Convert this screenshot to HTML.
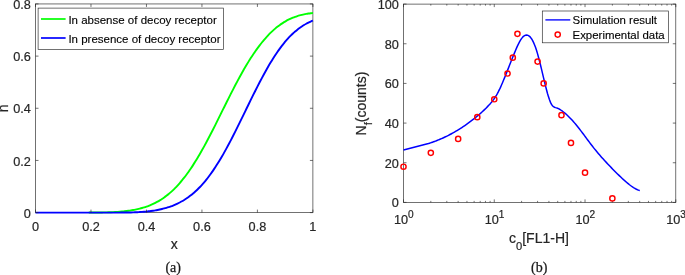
<!DOCTYPE html>
<html lang="en"><head><meta charset="utf-8"><title>Figure</title>
<style>html,body{margin:0;padding:0;background:#fff}body{width:685px;height:275px;overflow:hidden}svg{display:block}text{font-family:"Liberation Sans", sans-serif;fill:#262626;stroke:#262626;stroke-width:0.2px}.t{font-size:12.7px}.l{font-size:14.0px}.lg{font-size:11.3px;fill:#000;stroke:#000;stroke-width:0.12px}.cap{font-family:"Liberation Serif", serif;font-size:14px;fill:#1a1a1a;stroke:#1a1a1a;stroke-width:0.25px}</style></head><body>
<svg width="685" height="275" viewBox="0 0 685 275">
<rect width="685" height="275" fill="#fff"/>
<g id="left">
<rect x="35.50" y="3.95" width="277.40" height="208.65" fill="none" stroke="#262626" stroke-width="0.65"/>
<text class="t" x="35.50" y="230.60" text-anchor="middle">0</text>
<text class="t" x="90.98" y="230.60" text-anchor="middle">0.2</text>
<text class="t" x="146.46" y="230.60" text-anchor="middle">0.4</text>
<text class="t" x="201.94" y="230.60" text-anchor="middle">0.6</text>
<text class="t" x="257.42" y="230.60" text-anchor="middle">0.8</text>
<text class="t" x="312.90" y="230.60" text-anchor="middle">1</text>
<text class="t" x="30.90" y="217.80" text-anchor="end">0</text>
<text class="t" x="30.90" y="165.64" text-anchor="end">0.2</text>
<text class="t" x="30.90" y="113.47" text-anchor="end">0.4</text>
<text class="t" x="30.90" y="61.31" text-anchor="end">0.6</text>
<text class="t" x="30.90" y="9.15" text-anchor="end">0.8</text>
<text class="l" x="174.20" y="248.60" text-anchor="middle">x</text>
<text class="l" transform="translate(7.6 108.27) rotate(-90)" text-anchor="middle">n</text>
<path d="M88.76 212.57 C89.13 212.57 90.24 212.57 90.98 212.56 C91.72 212.56 92.46 212.55 93.20 212.55 C93.94 212.54 94.68 212.54 95.42 212.53 C96.16 212.52 96.90 212.51 97.64 212.51 C98.38 212.50 99.12 212.49 99.86 212.48 C100.60 212.47 101.34 212.45 102.08 212.44 C102.82 212.43 103.56 212.41 104.30 212.40 C105.03 212.38 105.77 212.36 106.51 212.34 C107.25 212.32 107.99 212.30 108.73 212.27 C109.47 212.25 110.21 212.22 110.95 212.19 C111.69 212.16 112.43 212.13 113.17 212.09 C113.91 212.06 114.65 212.02 115.39 211.98 C116.13 211.93 116.87 211.89 117.61 211.84 C118.35 211.79 119.09 211.74 119.83 211.68 C120.57 211.62 121.31 211.56 122.05 211.49 C122.79 211.43 123.53 211.35 124.27 211.28 C125.01 211.20 125.75 211.12 126.49 211.03 C127.23 210.94 127.97 210.84 128.71 210.74 C129.45 210.64 130.19 210.53 130.93 210.41 C131.67 210.30 132.41 210.17 133.14 210.04 C133.88 209.91 134.62 209.77 135.36 209.62 C136.10 209.47 136.84 209.31 137.58 209.15 C138.32 208.98 139.06 208.80 139.80 208.62 C140.54 208.43 141.28 208.23 142.02 208.02 C142.76 207.81 143.50 207.59 144.24 207.36 C144.98 207.13 145.72 206.88 146.46 206.62 C147.20 206.37 147.94 206.10 148.68 205.81 C149.42 205.52 150.16 205.23 150.90 204.91 C151.64 204.60 152.38 204.27 153.12 203.92 C153.86 203.58 154.60 203.22 155.34 202.84 C156.08 202.46 156.82 202.07 157.56 201.66 C158.30 201.24 159.04 200.81 159.78 200.37 C160.51 199.92 161.25 199.45 161.99 198.96 C162.73 198.47 163.47 197.97 164.21 197.44 C164.95 196.91 165.69 196.36 166.43 195.80 C167.17 195.23 167.91 194.64 168.65 194.02 C169.39 193.41 170.13 192.77 170.87 192.12 C171.61 191.46 172.35 190.78 173.09 190.07 C173.83 189.37 174.57 188.64 175.31 187.89 C176.05 187.14 176.79 186.36 177.53 185.56 C178.27 184.76 179.01 183.94 179.75 183.09 C180.49 182.24 181.23 181.36 181.97 180.46 C182.71 179.56 183.45 178.64 184.19 177.69 C184.93 176.74 185.67 175.77 186.41 174.77 C187.15 173.77 187.89 172.74 188.62 171.70 C189.36 170.65 190.10 169.58 190.84 168.48 C191.58 167.38 192.32 166.26 193.06 165.12 C193.80 163.97 194.54 162.81 195.28 161.62 C196.02 160.43 196.76 159.22 197.50 157.98 C198.24 156.75 198.98 155.50 199.72 154.22 C200.46 152.95 201.20 151.65 201.94 150.34 C202.68 149.03 203.42 147.69 204.16 146.34 C204.90 145.00 205.64 143.63 206.38 142.25 C207.12 140.87 207.86 139.47 208.60 138.06 C209.34 136.65 210.08 135.23 210.82 133.79 C211.56 132.36 212.30 130.91 213.04 129.45 C213.78 128.00 214.52 126.53 215.26 125.06 C215.99 123.59 216.73 122.11 217.47 120.63 C218.21 119.15 218.95 117.66 219.69 116.17 C220.43 114.68 221.17 113.18 221.91 111.69 C222.65 110.20 223.39 108.70 224.13 107.21 C224.87 105.72 225.61 104.23 226.35 102.75 C227.09 101.27 227.83 99.78 228.57 98.31 C229.31 96.84 230.05 95.37 230.79 93.92 C231.53 92.46 232.27 91.01 233.01 89.58 C233.75 88.14 234.49 86.71 235.23 85.30 C235.97 83.89 236.71 82.49 237.45 81.10 C238.19 79.72 238.93 78.35 239.67 76.99 C240.41 75.64 241.15 74.30 241.89 72.98 C242.63 71.66 243.37 70.36 244.10 69.08 C244.84 67.80 245.58 66.54 246.32 65.29 C247.06 64.05 247.80 62.83 248.54 61.63 C249.28 60.43 250.02 59.25 250.76 58.10 C251.50 56.94 252.24 55.81 252.98 54.70 C253.72 53.59 254.46 52.50 255.20 51.44 C255.94 50.38 256.68 49.34 257.42 48.32 C258.16 47.31 258.90 46.32 259.64 45.35 C260.38 44.38 261.12 43.44 261.86 42.52 C262.60 41.61 263.34 40.71 264.08 39.85 C264.82 38.98 265.56 38.13 266.30 37.32 C267.04 36.50 267.78 35.70 268.52 34.93 C269.26 34.16 270.00 33.41 270.74 32.69 C271.47 31.97 272.21 31.27 272.95 30.60 C273.69 29.92 274.43 29.27 275.17 28.64 C275.91 28.02 276.65 27.41 277.39 26.83 C278.13 26.25 278.87 25.69 279.61 25.15 C280.35 24.61 281.09 24.10 281.83 23.60 C282.57 23.11 283.31 22.63 284.05 22.18 C284.79 21.73 285.53 21.30 286.27 20.88 C287.01 20.47 287.75 20.08 288.49 19.70 C289.23 19.33 289.97 18.98 290.71 18.64 C291.45 18.30 292.19 17.98 292.93 17.68 C293.67 17.38 294.41 17.10 295.15 16.83 C295.89 16.56 296.63 16.31 297.37 16.07 C298.11 15.84 298.85 15.62 299.58 15.41 C300.32 15.20 301.06 15.01 301.80 14.83 C302.54 14.65 303.28 14.48 304.02 14.33 C304.76 14.17 305.50 14.03 306.24 13.90 C306.98 13.77 307.72 13.65 308.46 13.54 C309.20 13.43 309.94 13.33 310.68 13.24 C311.42 13.14 312.53 13.03 312.90 12.99" fill="none" stroke="#00ff00" stroke-width="1.9" stroke-linejoin="round"/>
<path d="M35.50 212.60 C35.87 212.60 36.98 212.60 37.72 212.60 C38.46 212.60 39.20 212.60 39.94 212.60 C40.68 212.60 41.42 212.60 42.16 212.60 C42.90 212.60 43.64 212.60 44.38 212.60 C45.12 212.60 45.86 212.60 46.60 212.60 C47.34 212.60 48.08 212.60 48.82 212.60 C49.55 212.60 50.29 212.60 51.03 212.60 C51.77 212.60 52.51 212.60 53.25 212.60 C53.99 212.60 54.73 212.60 55.47 212.60 C56.21 212.60 56.95 212.60 57.69 212.60 C58.43 212.60 59.17 212.60 59.91 212.60 C60.65 212.60 61.39 212.60 62.13 212.60 C62.87 212.60 63.61 212.60 64.35 212.60 C65.09 212.60 65.83 212.60 66.57 212.60 C67.31 212.60 68.05 212.60 68.79 212.60 C69.53 212.60 70.27 212.60 71.01 212.60 C71.75 212.60 72.49 212.60 73.23 212.60 C73.97 212.60 74.71 212.60 75.45 212.60 C76.19 212.60 76.93 212.60 77.66 212.60 C78.40 212.60 79.14 212.60 79.88 212.60 C80.62 212.60 81.36 212.60 82.10 212.60 C82.84 212.60 83.58 212.60 84.32 212.60 C85.06 212.60 85.80 212.60 86.54 212.60 C87.28 212.60 88.02 212.60 88.76 212.60 C89.50 212.60 90.24 212.60 90.98 212.60 C91.72 212.60 92.46 212.60 93.20 212.60 C93.94 212.60 94.68 212.60 95.42 212.60 C96.16 212.60 96.90 212.60 97.64 212.60 C98.38 212.60 99.12 212.60 99.86 212.60 C100.60 212.60 101.34 212.60 102.08 212.60 C102.82 212.60 103.56 212.60 104.30 212.60 C105.03 212.60 105.77 212.60 106.51 212.60 C107.25 212.60 107.99 212.60 108.73 212.60 C109.47 212.60 110.21 212.60 110.95 212.60 C111.69 212.60 112.43 212.60 113.17 212.60 C113.91 212.59 114.65 212.59 115.39 212.59 C116.13 212.59 116.87 212.59 117.61 212.59 C118.35 212.58 119.09 212.58 119.83 212.58 C120.57 212.57 121.31 212.57 122.05 212.56 C122.79 212.56 123.53 212.55 124.27 212.55 C125.01 212.54 125.75 212.53 126.49 212.52 C127.23 212.51 127.97 212.50 128.71 212.48 C129.45 212.47 130.19 212.45 130.93 212.43 C131.67 212.41 132.41 212.39 133.14 212.37 C133.88 212.35 134.62 212.32 135.36 212.29 C136.10 212.26 136.84 212.23 137.58 212.19 C138.32 212.15 139.06 212.11 139.80 212.07 C140.54 212.03 141.28 211.98 142.02 211.92 C142.76 211.87 143.50 211.81 144.24 211.75 C144.98 211.69 145.72 211.62 146.46 211.55 C147.20 211.48 147.94 211.40 148.68 211.31 C149.42 211.23 150.16 211.14 150.90 211.04 C151.64 210.94 152.38 210.84 153.12 210.73 C153.86 210.62 154.60 210.50 155.34 210.37 C156.08 210.25 156.82 210.11 157.56 209.97 C158.30 209.83 159.04 209.68 159.78 209.52 C160.51 209.36 161.25 209.19 161.99 209.02 C162.73 208.84 163.47 208.65 164.21 208.45 C164.95 208.26 165.69 208.05 166.43 207.83 C167.17 207.61 167.91 207.38 168.65 207.14 C169.39 206.90 170.13 206.64 170.87 206.37 C171.61 206.11 172.35 205.83 173.09 205.53 C173.83 205.24 174.57 204.93 175.31 204.61 C176.05 204.29 176.79 203.95 177.53 203.60 C178.27 203.24 179.01 202.87 179.75 202.49 C180.49 202.10 181.23 201.70 181.97 201.28 C182.71 200.86 183.45 200.42 184.19 199.96 C184.93 199.51 185.67 199.03 186.41 198.54 C187.15 198.04 187.89 197.52 188.62 196.99 C189.36 196.45 190.10 195.89 190.84 195.31 C191.58 194.73 192.32 194.13 193.06 193.51 C193.80 192.88 194.54 192.24 195.28 191.56 C196.02 190.89 196.76 190.20 197.50 189.48 C198.24 188.76 198.98 188.02 199.72 187.25 C200.46 186.48 201.20 185.69 201.94 184.87 C202.68 184.05 203.42 183.20 204.16 182.33 C204.90 181.46 205.64 180.56 206.38 179.64 C207.12 178.72 207.86 177.77 208.60 176.79 C209.34 175.82 210.08 174.82 210.82 173.79 C211.56 172.76 212.30 171.71 213.04 170.63 C213.78 169.55 214.52 168.45 215.26 167.32 C215.99 166.19 216.73 165.04 217.47 163.86 C218.21 162.68 218.95 161.48 219.69 160.25 C220.43 159.03 221.17 157.78 221.91 156.51 C222.65 155.24 223.39 153.95 224.13 152.63 C224.87 151.32 225.61 149.99 226.35 148.64 C227.09 147.29 227.83 145.91 228.57 144.53 C229.31 143.14 230.05 141.73 230.79 140.32 C231.53 138.90 232.27 137.46 233.01 136.01 C233.75 134.57 234.49 133.10 235.23 131.63 C235.97 130.16 236.71 128.68 237.45 127.19 C238.19 125.70 238.93 124.20 239.67 122.69 C240.41 121.19 241.15 119.68 241.89 118.16 C242.63 116.65 243.37 115.13 244.10 113.61 C244.84 112.09 245.58 110.56 246.32 109.04 C247.06 107.52 247.80 106.00 248.54 104.49 C249.28 102.97 250.02 101.46 250.76 99.95 C251.50 98.45 252.24 96.95 252.98 95.45 C253.72 93.96 254.46 92.48 255.20 91.01 C255.94 89.53 256.68 88.07 257.42 86.62 C258.16 85.17 258.90 83.73 259.64 82.31 C260.38 80.89 261.12 79.48 261.86 78.09 C262.60 76.70 263.34 75.33 264.08 73.98 C264.82 72.62 265.56 71.29 266.30 69.97 C267.04 68.66 267.78 67.36 268.52 66.09 C269.26 64.82 270.00 63.57 270.74 62.35 C271.47 61.12 272.21 59.92 272.95 58.74 C273.69 57.56 274.43 56.41 275.17 55.29 C275.91 54.16 276.65 53.06 277.39 51.98 C278.13 50.91 278.87 49.86 279.61 48.84 C280.35 47.82 281.09 46.83 281.83 45.87 C282.57 44.90 283.31 43.97 284.05 43.06 C284.79 42.15 285.53 41.27 286.27 40.42 C287.01 39.57 287.75 38.74 288.49 37.94 C289.23 37.15 289.97 36.38 290.71 35.64 C291.45 34.90 292.19 34.18 292.93 33.49 C293.67 32.81 294.41 32.14 295.15 31.51 C295.89 30.87 296.63 30.26 297.37 29.68 C298.11 29.09 298.85 28.53 299.58 28.00 C300.32 27.46 301.06 26.95 301.80 26.46 C302.54 25.96 303.28 25.50 304.02 25.05 C304.76 24.60 305.50 24.17 306.24 23.76 C306.98 23.35 307.72 22.96 308.46 22.59 C309.20 22.22 309.94 21.87 310.68 21.53 C311.42 21.19 312.53 20.72 312.90 20.56" fill="none" stroke="#0000ff" stroke-width="1.9" stroke-linejoin="round"/>
<path d="M35.50 212.60v-3.00 M35.50 3.95v3.00 M90.98 212.60v-3.00 M90.98 3.95v3.00 M146.46 212.60v-3.00 M146.46 3.95v3.00 M201.94 212.60v-3.00 M201.94 3.95v3.00 M257.42 212.60v-3.00 M257.42 3.95v3.00 M312.90 212.60v-3.00 M312.90 3.95v3.00 M35.50 212.60h3.00 M312.90 212.60h-3.00 M35.50 160.44h3.00 M312.90 160.44h-3.00 M35.50 108.27h3.00 M312.90 108.27h-3.00 M35.50 56.11h3.00 M312.90 56.11h-3.00 M35.50 3.95h3.00 M312.90 3.95h-3.00" stroke="#262626" stroke-width="0.65" fill="none"/>
<rect x="38.1" y="8.1" width="185.4" height="41.3" fill="#fff" stroke="#262626" stroke-width="0.65"/>
<path d="M41 19H65.6" stroke="#00ff00" stroke-width="1.7"/>
<path d="M41 38H65.6" stroke="#0000ff" stroke-width="1.7"/>
<text class="lg" style="font-size:11.5px" x="68.4" y="23.9">In absense of decoy receptor</text>
<text class="lg" style="font-size:11.5px" x="68.4" y="42.9">In presence of decoy receptor</text>
<text class="cap" x="173.20" y="272.4" text-anchor="middle">(a)</text>
</g>
<g id="right">
<rect x="403.50" y="4.10" width="272.30" height="198.30" fill="none" stroke="#262626" stroke-width="0.65"/>
<path d="M403.50 202.40v-3.00 M403.50 4.10v3.00 M430.82 202.40v-1.50 M430.82 4.10v1.50 M446.81 202.40v-1.50 M446.81 4.10v1.50 M458.15 202.40v-1.50 M458.15 4.10v1.50 M466.94 202.40v-1.50 M466.94 4.10v1.50 M474.13 202.40v-1.50 M474.13 4.10v1.50 M480.21 202.40v-1.50 M480.21 4.10v1.50 M485.47 202.40v-1.50 M485.47 4.10v1.50 M490.11 202.40v-1.50 M490.11 4.10v1.50 M494.27 202.40v-3.00 M494.27 4.10v3.00 M521.59 202.40v-1.50 M521.59 4.10v1.50 M537.57 202.40v-1.50 M537.57 4.10v1.50 M548.91 202.40v-1.50 M548.91 4.10v1.50 M557.71 202.40v-1.50 M557.71 4.10v1.50 M564.90 202.40v-1.50 M564.90 4.10v1.50 M570.97 202.40v-1.50 M570.97 4.10v1.50 M576.24 202.40v-1.50 M576.24 4.10v1.50 M580.88 202.40v-1.50 M580.88 4.10v1.50 M585.03 202.40v-3.00 M585.03 4.10v3.00 M612.36 202.40v-1.50 M612.36 4.10v1.50 M628.34 202.40v-1.50 M628.34 4.10v1.50 M639.68 202.40v-1.50 M639.68 4.10v1.50 M648.48 202.40v-1.50 M648.48 4.10v1.50 M655.66 202.40v-1.50 M655.66 4.10v1.50 M661.74 202.40v-1.50 M661.74 4.10v1.50 M667.00 202.40v-1.50 M667.00 4.10v1.50 M671.65 202.40v-1.50 M671.65 4.10v1.50 M675.80 202.40v-3.00 M675.80 4.10v3.00 M403.50 202.40h3.00 M675.80 202.40h-3.00 M403.50 162.74h3.00 M675.80 162.74h-3.00 M403.50 123.08h3.00 M675.80 123.08h-3.00 M403.50 83.42h3.00 M675.80 83.42h-3.00 M403.50 43.76h3.00 M675.80 43.76h-3.00 M403.50 4.10h3.00 M675.80 4.10h-3.00" stroke="#262626" stroke-width="0.65" fill="none"/>
<text class="t" x="393.90" y="224.4">10<tspan font-size="10.1px" dy="-6.4">0</tspan></text>
<text class="t" x="484.67" y="224.4">10<tspan font-size="10.1px" dy="-6.4">1</tspan></text>
<text class="t" x="575.43" y="224.4">10<tspan font-size="10.1px" dy="-6.4">2</tspan></text>
<text class="t" x="666.20" y="224.4">10<tspan font-size="10.1px" dy="-6.4">3</tspan></text>
<text class="t" x="398.80" y="207.40" text-anchor="end">0</text>
<text class="t" x="398.80" y="167.74" text-anchor="end">20</text>
<text class="t" x="398.80" y="128.08" text-anchor="end">40</text>
<text class="t" x="398.80" y="88.42" text-anchor="end">60</text>
<text class="t" x="398.80" y="48.76" text-anchor="end">80</text>
<text class="t" x="398.80" y="9.10" text-anchor="end">100</text>
<text class="l" x="509" y="242.8">c<tspan font-size="11.2px" dy="6.9">0</tspan><tspan dy="-6.9">[FL1-H]</tspan></text>
<text class="l" transform="translate(365.5 135.4) rotate(-90)">N<tspan font-size="11.2px" dy="6.9">f</tspan><tspan dy="-6.9">(counts)</tspan></text>
<path d="M403.50 150.10 L428.50 143.50 L429.50 143.18 L430.50 142.86 L431.50 142.52 L432.50 142.18 L433.50 141.82 L434.50 141.46 L435.50 141.08 L436.50 140.70 L437.50 140.31 L438.50 139.90 L439.50 139.49 L440.50 139.06 L441.50 138.63 L442.50 138.19 L443.50 137.73 L444.50 137.27 L445.50 136.79 L446.50 136.31 L447.50 135.81 L448.50 135.31 L449.50 134.79 L450.50 134.26 L451.50 133.73 L452.50 133.18 L453.50 132.62 L454.50 132.05 L455.50 131.47 L456.50 130.88 L457.50 130.28 L458.50 129.67 L459.50 129.05 L460.50 128.42 L461.50 127.77 L462.50 127.12 L463.50 126.45 L464.50 125.77 L465.50 125.08 L466.50 124.38 L467.50 123.67 L468.50 122.95 L469.50 122.22 L470.50 121.47 L471.50 120.72 L472.50 119.95 L473.50 119.17 L474.50 118.38 L475.50 117.58 L476.50 116.76 L477.50 115.93 L478.50 115.08 L479.50 114.22 L480.50 113.34 L481.50 112.44 L482.50 111.53 L483.50 110.59 L484.50 109.64 L485.50 108.67 L486.50 107.67 L487.50 106.65 L488.50 105.60 L489.50 104.52 L490.50 103.39 L491.50 102.20 L492.50 100.95 L493.50 99.62 L494.50 98.20 L495.50 96.68 L496.50 95.06 L497.50 93.32 L498.50 91.45 L499.50 89.45 L500.50 87.32 L501.50 85.07 L502.50 82.73 L503.50 80.33 L504.50 77.89 L505.50 75.42 L506.50 72.91 L507.50 70.39 L508.50 67.86 L509.50 65.32 L510.50 62.79 L511.50 60.27 L512.50 57.77 L513.50 55.30 L514.50 52.87 L515.50 50.47 L516.50 48.15 L517.50 45.92 L518.50 43.82 L519.50 41.88 L520.50 40.13 L521.50 38.61 L522.50 37.34 L523.50 36.35 L524.50 35.63 L525.50 35.19 L526.50 35.04 L527.50 35.17 L528.50 35.61 L529.50 36.34 L530.50 37.38 L531.50 38.73 L532.50 40.40 L533.50 42.38 L534.50 44.69 L535.50 47.33 L536.50 50.31 L537.50 53.61 L538.50 57.20 L539.50 61.03 L540.50 65.03 L541.50 69.16 L542.50 73.35 L543.50 77.57 L544.50 81.74 L545.50 85.83 L546.50 89.76 L547.50 93.46 L548.50 96.85 L549.50 99.85 L550.50 102.39 L551.50 104.39 L552.50 105.80 L553.50 106.71 L554.50 107.26 L555.50 107.61 L556.50 107.89 L557.50 108.24 L558.50 108.69 L559.50 109.22 L560.50 109.83 L561.50 110.50 L562.50 111.22 L563.50 111.99 L564.50 112.80 L565.50 113.65 L566.50 114.53 L567.50 115.46 L568.50 116.42 L569.50 117.41 L570.50 118.44 L571.50 119.50 L572.50 120.60 L573.50 121.72 L574.50 122.88 L575.50 124.06 L576.50 125.28 L577.50 126.51 L578.50 127.77 L579.50 129.06 L580.50 130.35 L581.50 131.66 L582.50 132.99 L583.50 134.32 L584.50 135.66 L585.50 137.01 L586.50 138.35 L587.50 139.70 L588.50 141.04 L589.50 142.37 L590.50 143.70 L591.50 145.01 L592.50 146.31 L593.50 147.59 L594.50 148.85 L595.50 150.09 L596.50 151.30 L597.50 152.50 L598.50 153.68 L599.50 154.85 L600.50 156.00 L601.50 157.13 L602.50 158.25 L603.50 159.36 L604.50 160.45 L605.50 161.54 L606.50 162.62 L607.50 163.69 L608.50 164.75 L609.50 165.80 L610.50 166.85 L611.50 167.88 L612.50 168.91 L613.50 169.93 L614.50 170.94 L615.50 171.94 L616.50 172.94 L617.50 173.92 L618.50 174.89 L619.50 175.85 L620.50 176.81 L621.50 177.75 L622.50 178.68 L623.50 179.60 L624.50 180.51 L625.50 181.40 L626.50 182.27 L627.50 183.12 L628.50 183.95 L629.50 184.75 L630.50 185.51 L631.50 186.24 L632.50 186.94 L633.50 187.59 L634.50 188.19 L635.50 188.75 L636.50 189.25 L637.50 189.70 L638.50 190.09 L639.50 190.42 L639.80 190.50" fill="none" stroke="#0000ff" stroke-width="1.5" stroke-linejoin="round"/>
<circle cx="403.50" cy="166.71" r="2.6" fill="none" stroke="#ff0000" stroke-width="1.45"/>
<circle cx="430.82" cy="152.82" r="2.6" fill="none" stroke="#ff0000" stroke-width="1.45"/>
<circle cx="458.15" cy="138.94" r="2.6" fill="none" stroke="#ff0000" stroke-width="1.45"/>
<circle cx="477.29" cy="117.13" r="2.6" fill="none" stroke="#ff0000" stroke-width="1.45"/>
<circle cx="494.27" cy="99.28" r="2.6" fill="none" stroke="#ff0000" stroke-width="1.45"/>
<circle cx="507.53" cy="73.50" r="2.6" fill="none" stroke="#ff0000" stroke-width="1.45"/>
<circle cx="512.79" cy="57.64" r="2.6" fill="none" stroke="#ff0000" stroke-width="1.45"/>
<circle cx="517.44" cy="33.84" r="2.6" fill="none" stroke="#ff0000" stroke-width="1.45"/>
<circle cx="537.57" cy="61.61" r="2.6" fill="none" stroke="#ff0000" stroke-width="1.45"/>
<circle cx="543.65" cy="83.42" r="2.6" fill="none" stroke="#ff0000" stroke-width="1.45"/>
<circle cx="561.47" cy="115.15" r="2.6" fill="none" stroke="#ff0000" stroke-width="1.45"/>
<circle cx="570.97" cy="142.91" r="2.6" fill="none" stroke="#ff0000" stroke-width="1.45"/>
<circle cx="585.03" cy="172.66" r="2.6" fill="none" stroke="#ff0000" stroke-width="1.45"/>
<circle cx="612.36" cy="198.43" r="2.6" fill="none" stroke="#ff0000" stroke-width="1.45"/>
<rect x="542.3" y="11.0" width="126.3" height="31.8" fill="#fff" stroke="#262626" stroke-width="0.65"/>
<path d="M545.4 19.9H570.3" stroke="#0000ff" stroke-width="1.35"/>
<circle cx="557.7" cy="34.6" r="2.6" fill="none" stroke="#ff0000" stroke-width="1.45"/>
<text class="lg" style="font-size:11.45px" x="572.5" y="24.4">Simulation result</text>
<text class="lg" style="font-size:11.45px" x="572.5" y="39.1">Experimental data</text>
<text class="cap" x="539.25" y="272.4" text-anchor="middle">(b)</text>
</g>
</svg></body></html>
